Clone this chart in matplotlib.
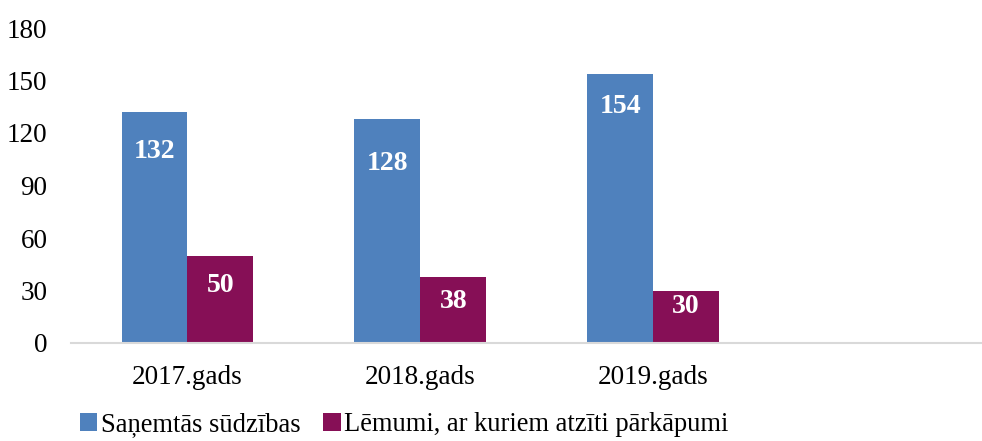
import matplotlib
matplotlib.use("Agg")
import matplotlib.pyplot as plt
import numpy as np

categories = ["2017.gads", "2018.gads", "2019.gads", ""]
received = [132, 128, 154, None]
violations = [50, 38, 30, None]
series_names = ["Saņemtās sūdzības", "Lēmumi, ar kuriem atzīti pārkāpumi"]
colors = ["#4F81BD", "#860F56"]
yticks = [0, 30, 60, 90, 120, 150, 180]

# label drop below bar top, pixels (as placed in the original)
drop_a = [39, 45, 33]
drop_b = [30, 25, 16]

plt.rcParams['font.family'] = ['Liberation Serif', 'DejaVu Serif']

fig = plt.figure(figsize=(9.82, 4.41), dpi=100)
ax = fig.add_axes([71/982, 1 - 343/441, 1 - 71/982, (343 - 28)/441])

x = np.arange(len(categories))
w = 0.283
vals_a = [v if v is not None else 0 for v in received]
vals_b = [v if v is not None else 0 for v in violations]
bars_a = ax.bar(x - w/2, vals_a, w, color=colors[0], label=series_names[0])
bars_b = ax.bar(x + w/2, vals_b, w, color=colors[1], label=series_names[1])

for bars, vals, drops in [(bars_a, received, drop_a), (bars_b, violations, drop_b)]:
    for b, v, d in zip(bars, vals, drops):
        ax.annotate(str(v), (b.get_x() + b.get_width()/2, v), xytext=(0, -d),
                    textcoords='offset pixels', ha='center', va='center',
                    color='white', fontsize=20, fontweight='bold')

ax.set_ylim(0, 180)
ax.set_xlim(-0.5, (982 - 187) / 233)
ax.set_yticks(yticks)
ax.set_xticks(x)
ax.set_xticklabels(categories)
ax.tick_params(axis='both', length=0, labelsize=19.5)
ax.tick_params(axis='y', pad=17)
ax.tick_params(axis='x', pad=16)
for s in ['top', 'right', 'left']:
    ax.spines[s].set_visible(False)
ax.spines['bottom'].set_color('#d9d9d9')
ax.spines['bottom'].set_linewidth(1.5)

fig.legend(loc='lower left', bbox_to_anchor=(56/982, -0.045), ncol=2, frameon=False,
           fontsize=19.1, handlelength=0.65, handleheight=0.65, handletextpad=0.15,
           columnspacing=0.85)

fig.savefig("out.png", dpi=100)
